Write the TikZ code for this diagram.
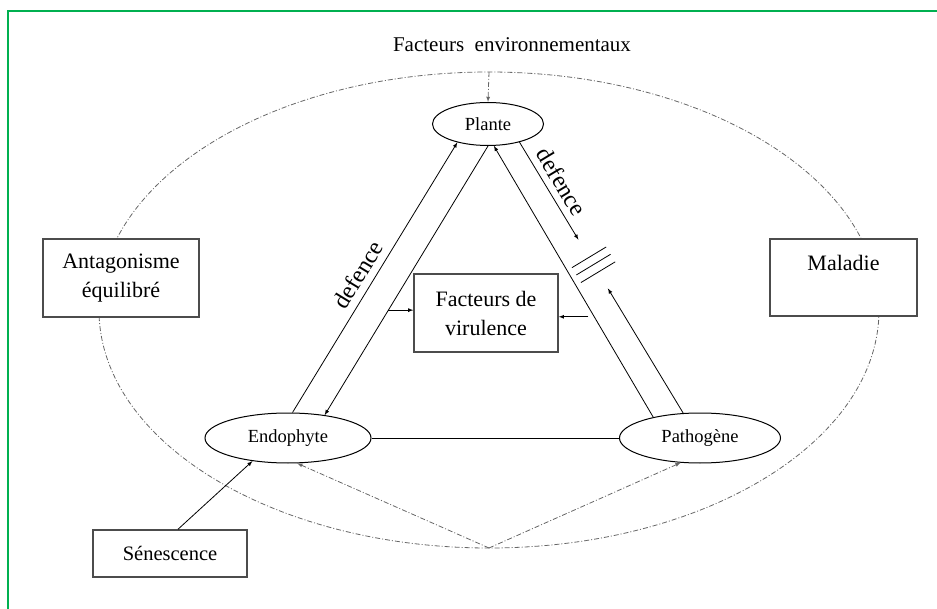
\documentclass[tikz,border=0pt]{standalone}
\usepackage{fontspec}
\setmainfont{Liberation Serif}
\usepackage{tikz}
\usetikzlibrary{calc}
\usetikzlibrary{shapes.geometric}

\definecolor{vertcadre}{RGB}{0,176,80}
\tikzset{
  boite/.style={draw=black!70, line width=1.5pt, fill=white, align=center, font=\fontsize{22}{29}\selectfont},
  bulle/.style={draw, ellipse, line width=1pt, fill=white, font=\fontsize{18.5}{22}\selectfont},
  lien/.style={line width=0.8pt},
  pointille/.style={black!60, line width=0.8pt, dash pattern=on 5pt off 2pt on 1pt off 2pt},
  etiquette/.style={font=\fontsize{24}{28}\selectfont, inner sep=1pt}
}

\begin{document}
\begin{tikzpicture}[x=1pt,y=-1pt]
\useasboundingbox (0,0) rectangle (937,609);
\draw[vertcadre, line width=1.5pt] (8,609) -- (8,11) -- (937,11);

\draw[pointille] (489,310) ellipse [x radius=390, y radius=238];
\coordinate (haut) at (489,72);
\coordinate (bas) at (489,548);

\node[font=\fontsize{21}{25}\selectfont] (env) at (512,45) {Facteurs\ \ environnementaux};
\node[bulle, minimum width=111pt, minimum height=43pt] (plante) at (488,124) {Plante};
\node[bulle, minimum width=166pt, minimum height=50pt] (endo) at (288,438) {Endophyte};
\node[bulle, minimum width=161pt, minimum height=50pt] (patho) at (700,438) {Pathogène};
\node[boite, minimum width=156pt, minimum height=78pt] (antago) at (121,278) {Antagonisme\\équilibré};
\node[boite, minimum width=147pt, minimum height=77pt] (maladie) at (843.5,277.5) {Maladie\\\mbox{}};
\node[boite, minimum width=144pt, minimum height=78pt] (viru) at (486,313) {Facteurs de\\virulence};
\node[boite, minimum width=154pt, minimum height=47pt, font=\fontsize{20.5}{24}\selectfont] (sene) at (170,553.5) {Sénescence};

\draw[pointille,-latex] (haut) -- (plante.north);

\draw[lien,-latex] (endo.80) -- (plante.211) node[pos=0.48, sloped, above=6pt, etiquette] {defence};
\draw[lien,-latex] (plante.270) -- (endo.32);
\draw[lien,-latex] (patho.156) -- (plante.285);
\draw[lien] (endo.east) -- (patho.west);

\path (plante.330) -- (patho.124) node[pos=0.175, sloped, above=6pt, etiquette] {defence};
\draw[lien,-latex] (plante.330) -- ($(plante.330)!0.36!(patho.124)$);
\draw[lien,-latex] (patho.124) -- ($(plante.330)!0.54!(patho.124)$);
\foreach \f [count=\i] in {0.425,0.452,0.48}
  \coordinate (m\i) at ($(plante.330)!\f!(patho.124)$);
\foreach \i in {1,2,3}
  \draw[lien] ($(m\i)!20pt!90:(patho.124)$) -- ($(m\i)!20pt!-90:(patho.124)$);

\coordinate (vg) at ($(plante.270)!0.61!(endo.32)$);
\coordinate (vd) at ($(patho.156)!0.37!(plante.285)$);
\draw[lien,-latex] (vg) -- (vg -| viru.west);
\draw[lien,-latex,shorten <=6pt] (vd) -- (vd -| viru.east);

\draw[lien,-latex] ([xshift=8pt]sene.north) -- (endo.213);
\draw[pointille,-latex] (bas) -- (endo.290);
\draw[pointille,-latex] (bas) -- (patho.232);
\end{tikzpicture}
\end{document}
